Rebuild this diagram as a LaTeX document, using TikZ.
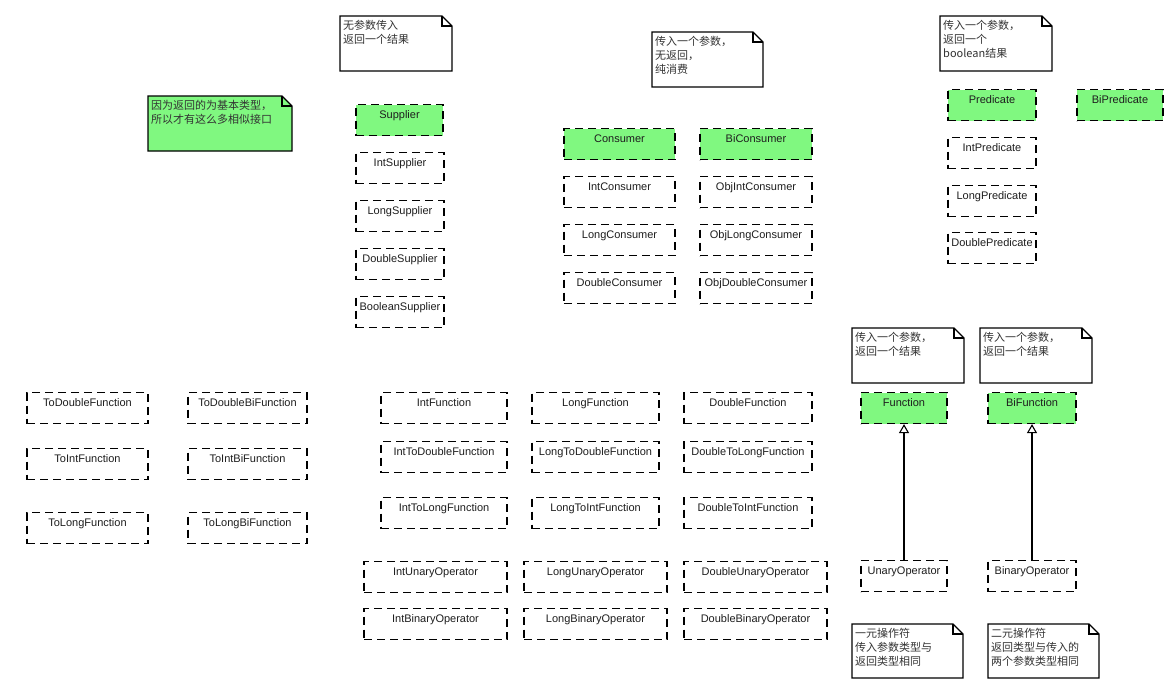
\documentclass[tikz,border=0pt]{standalone}
\usepackage{fontspec}
\setmainfont{Liberation Sans}
\newfontfamily\cjk{Noto Sans CJK SC}
\usetikzlibrary{arrows.meta}
\definecolor{boxgreen}{RGB}{128,248,128}
\definecolor{txt}{RGB}{30,30,30}
\tikzset{
  ibox/.style={draw=black, line width=1.1pt, dash pattern=on 8pt off 5pt, anchor=north,
    inner xsep=0pt, inner ysep=0pt, text height=14pt, text depth=17pt,
    font=\fontsize{11}{13}\selectfont, text=txt},
  gbox/.style={fill=boxgreen},
  notebody/.style={draw=black, line width=1.1pt, fill=white, line join=miter},
  notetext/.style={anchor=north west, align=left, inner sep=0pt,
    font=\cjk\fontsize{11}{14}\selectfont, text=black!80},
  gen/.style={draw=black, line width=1.1pt, -{Triangle[open, width=10pt, length=9pt, line width=1.1pt]}}
}
\newcommand{\jbox}[6][]{%
  \pgfmathsetmacro{\jbW}{#5-#3}%
  \pgfmathsetmacro{\jbX}{(#3+#5)/2}%
  \node[ibox,#1,minimum width=\jbW pt] (#2) at (\jbX,#4) {#6};}
\newcommand{\jnote}[7][]{%
  \draw[notebody,#1] (#3,#4) -- ({#5-10},#4) -- (#5,{#4+10}) -- (#5,#6) -- (#3,#6) -- cycle;
  \draw[notebody,fill=none] ({#5-10},#4) -- ({#5-10},{#4+10}) -- (#5,{#4+10});
  \node[notetext] (#2) at ({#3+3},{#4+4}) {#7};}
\begin{document}
\begin{tikzpicture}[x=1pt,y=-1pt]
\useasboundingbox[fill=white] (0,0) rectangle (1167,681);
% notes
\jnote{nsup}{340}{16}{452}{71}{无参数传入\\返回一个结果}
\jnote[fill=boxgreen]{nprim}{148}{96}{292}{151}{因为返回的为基本类型，\\所以才有这么多相似接口}
\jnote{ncons}{652}{32}{763}{87}{传入一个参数，\\无返回，\\纯消费}
\jnote{npred}{940}{16}{1052}{71}{传入一个参数，\\返回一个\\boolean结果}
\jnote{nfunc}{852}{328}{964}{383}{传入一个参数，\\返回一个结果}
\jnote{nbifunc}{980}{328}{1092}{383}{传入一个参数，\\返回一个结果}
\jnote{nunary}{852}{624}{963}{678}{一元操作符\\传入参数类型与\\返回类型相同}
\jnote{nbinary}{988}{624}{1099}{678}{二元操作符\\返回类型与传入的\\两个参数类型相同}
% suppliers
\jbox[gbox]{sup}{356}{104}{443}{Supplier}
\jbox{isup}{356}{152}{444}{IntSupplier}
\jbox{lsup}{356}{200}{444}{LongSupplier}
\jbox{dsup}{356}{248}{444}{DoubleSupplier}
\jbox{bsup}{356}{296}{444}{BooleanSupplier}
% consumers
\jbox[gbox]{cons}{564}{128}{675}{Consumer}
\jbox{icons}{564}{176}{675}{IntConsumer}
\jbox{lcons}{564}{224}{675}{LongConsumer}
\jbox{dcons}{564}{272}{675}{DoubleConsumer}
\jbox[gbox]{bicons}{700}{128}{812}{BiConsumer}
\jbox{oicons}{700}{176}{812}{ObjIntConsumer}
\jbox{olcons}{700}{224}{812}{ObjLongConsumer}
\jbox{odcons}{700}{272}{812}{ObjDoubleConsumer}
% predicates
\jbox[gbox]{pred}{948}{89}{1036}{Predicate}
\jbox[gbox]{bipred}{1077}{89}{1163}{BiPredicate}
\jbox{ipred}{948}{137}{1036}{IntPredicate}
\jbox{lpred}{948}{185}{1036}{LongPredicate}
\jbox{dpred}{948}{232}{1036}{DoublePredicate}
% functions
\jbox[gbox]{func}{861}{392}{947}{Function}
\jbox[gbox]{bifunc}{988}{392}{1076}{BiFunction}
\jbox{uop}{861}{560}{947}{UnaryOperator}
\jbox{bop}{988}{560}{1076}{BinaryOperator}
\jbox{tdf}{27}{392}{148}{ToDoubleFunction}
\jbox{tif}{27}{448}{148}{ToIntFunction}
\jbox{tlf}{27}{512}{148}{ToLongFunction}
\jbox{tdbf}{188}{392}{307}{ToDoubleBiFunction}
\jbox{tibf}{188}{448}{307}{ToIntBiFunction}
\jbox{tlbf}{188}{512}{307}{ToLongBiFunction}
\jbox{if}{381}{392}{507}{IntFunction}
\jbox{lf}{532}{392}{659}{LongFunction}
\jbox{df}{684}{392}{812}{DoubleFunction}
\jbox{itdf}{381}{441}{507}{IntToDoubleFunction}
\jbox{ltdf}{532}{441}{659}{LongToDoubleFunction}
\jbox{dtlf}{684}{441}{812}{DoubleToLongFunction}
\jbox{itlf}{381}{497}{507}{IntToLongFunction}
\jbox{ltif}{532}{497}{659}{LongToIntFunction}
\jbox{dtif}{684}{497}{812}{DoubleToIntFunction}
\jbox{iuo}{364}{561}{507}{IntUnaryOperator}
\jbox{luo}{524}{561}{667}{LongUnaryOperator}
\jbox{duo}{684}{561}{827}{DoubleUnaryOperator}
\jbox{ibo}{364}{608}{507}{IntBinaryOperator}
\jbox{lbo}{524}{608}{667}{LongBinaryOperator}
\jbox{dbo}{684}{608}{827}{DoubleBinaryOperator}
% generalisation arrows
\draw[gen] (uop.north) -- (func.south);
\draw[gen] (bop.north) -- (bifunc.south);
\end{tikzpicture}
\end{document}
